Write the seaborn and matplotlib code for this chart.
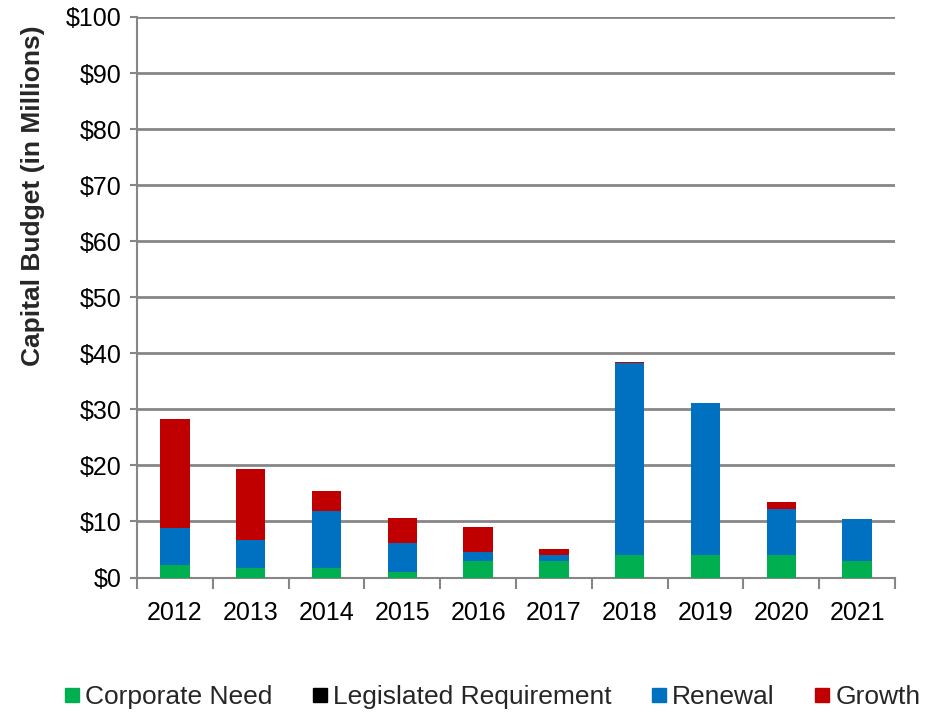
import numpy as np
import pandas as pd
import matplotlib
matplotlib.use("Agg")
import matplotlib.pyplot as plt
import seaborn as sns
from matplotlib.ticker import FixedLocator, FuncFormatter

years = ["2012", "2013", "2014", "2015", "2016", "2017", "2018", "2019", "2020", "2021"]
corporate_need = [2.3, 1.7, 1.7, 1.0, 2.9, 2.9, 4.0, 4.0, 4.0, 2.9]
legislated_requirement = [0, 0, 0, 0, 0, 0, 0, 0, 0, 0]
renewal = [6.5, 5.0, 10.2, 5.1, 1.7, 1.2, 34.3, 27.1, 8.3, 7.5]
growth = [19.5, 12.7, 3.6, 4.5, 4.4, 1.0, 0.2, 0.0, 1.1, 0.0]

series_names = ["Corporate Need", "Legislated Requirement", "Renewal", "Growth"]
series_values = [corporate_need, legislated_requirement, renewal, growth]
series_colors = ["#00B050", "#000000", "#0070C0", "#C00000"]

sns.set_theme(style="white")
plt.rcParams["font.family"] = ["Liberation Sans", "DejaVu Sans"]

fig = plt.figure(figsize=(9.34, 7.13), dpi=100)
ax = fig.add_axes([137 / 934, 1 - 577.5 / 713, 758 / 934, 560.5 / 713])

# stacked bars: draw cumulative totals from the top layer down
cum = np.cumsum(np.array(series_values, dtype=float), axis=0)
for i in range(len(series_names) - 1, -1, -1):
    df = pd.DataFrame({"year": years, "value": cum[i]})
    sns.barplot(data=df, x="year", y="value", color=series_colors[i],
                width=0.39, saturation=1, ax=ax, linewidth=0, zorder=3)

ax.set_ylim(0, 100)
ax.set_xlim(-0.5, len(years) - 0.5)
ax.yaxis.set_major_locator(FixedLocator(np.arange(0, 101, 10)))
ax.yaxis.set_major_formatter(FuncFormatter(lambda v, p: f"${v:.0f}"))
ax.grid(axis="y", color="#868686", linewidth=2, zorder=0)
ax.grid(axis="x", visible=False)
ax.set_axisbelow(True)

for side in ["top", "right"]:
    ax.spines[side].set_visible(False)
for side in ["left", "bottom"]:
    ax.spines[side].set_color("#868686")
    ax.spines[side].set_linewidth(1.5)

ax.tick_params(axis="y", which="major", length=5, width=1.5, color="#868686",
               labelsize=18, pad=6, left=True)
ax.tick_params(axis="x", which="major", length=0, labelsize=18, pad=17)
ax.xaxis.set_minor_locator(FixedLocator(np.arange(-0.5, len(years), 1.0)))
ax.tick_params(axis="x", which="minor", length=8, width=1.5, color="#868686",
               bottom=True)
ax.set_xlabel("")
ax.set_ylabel("Capital Budget (in Millions)", fontsize=19, fontweight="bold")
ax.yaxis.set_label_coords(-0.1214, 0.6806)
for lbl in ax.get_yticklabels() + ax.get_xticklabels():
    lbl.set_color("black")

handles = [plt.Line2D([0], [0], marker="s", linestyle="", markersize=9.5,
                      markerfacecolor=c, markeredgecolor=c) for c in series_colors]
fig.legend(handles, series_names, loc="center", bbox_to_anchor=(493 / 934, 1 - 697 / 713),
           ncol=4, frameon=False, fontsize=19, handletextpad=0.25,
           columnspacing=1.55, handlelength=0.5, borderpad=0, borderaxespad=0)

fig.savefig("out.png", dpi=100)
